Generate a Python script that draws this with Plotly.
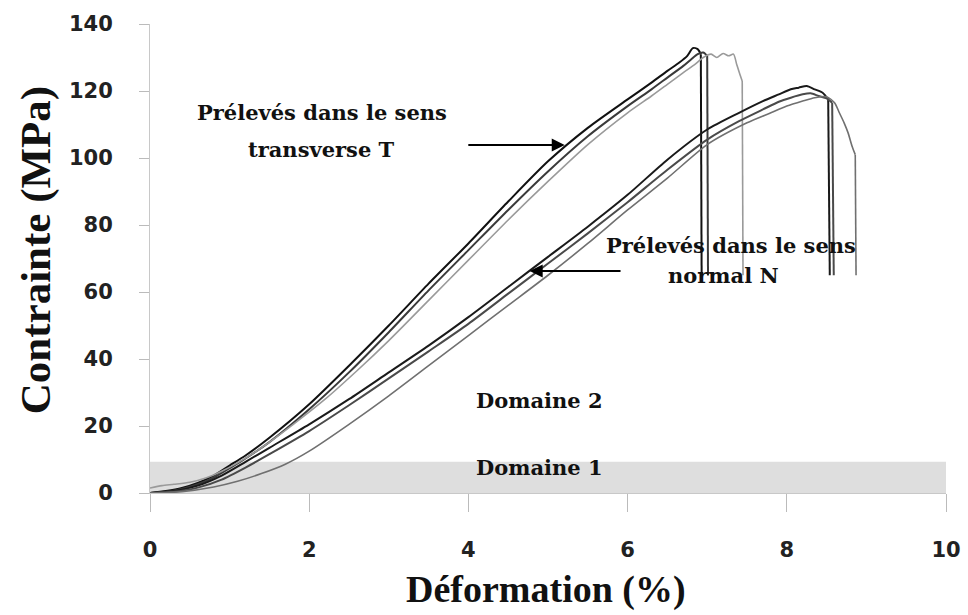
import plotly.graph_objects as go

# Tensile curves, transverse direction (T)
t1_strain = [0, 0.2, 0.4, 0.6, 0.8, 1.0, 1.2, 1.5, 2.0, 2.5, 3.0, 3.5, 4.0, 4.5, 5.0, 5.5, 6.0, 6.3, 6.5, 6.65, 6.75, 6.82, 6.88, 6.92, 6.93]
t1_stress = [0, 0.6, 1.5, 3.0, 5.2, 8.2, 11.2, 16.5, 26.5, 38, 50, 62.5, 74.5, 87, 99, 109, 117.5, 122.5, 126, 128.5, 130.5, 132.8, 132.5, 131, 65]

t2_strain = [0, 0.2, 0.4, 0.6, 0.8, 1.0, 1.2, 1.5, 2.0, 2.5, 3.0, 3.5, 4.0, 4.5, 5.0, 5.5, 6.0, 6.3, 6.5, 6.7, 6.8, 6.88, 6.95, 7.0, 7.01]
t2_stress = [0, 0.4, 1.2, 2.6, 4.6, 7.4, 10.3, 15.2, 25, 36, 48, 60.5, 72.5, 84.5, 96, 106.5, 115.5, 120.5, 124, 127.5, 129.5, 131, 131.5, 130.5, 65]

t3_strain = [0, 0.15, 0.3, 0.5, 0.7, 0.9, 1.1, 1.4, 1.8, 2.2, 2.6, 3.0, 3.5, 4.0, 4.5, 5.0, 5.5, 6.0, 6.3, 6.5, 6.7, 6.85, 6.95, 7.05, 7.12, 7.2, 7.27, 7.33, 7.37, 7.41, 7.44, 7.45]
t3_stress = [1.5, 2.2, 2.6, 3.2, 4.5, 6.5, 9, 13.5, 20.5, 28, 36.5, 45.5, 57.5, 69.5, 81.5, 93, 104, 113.5, 118.5, 122, 125.5, 128, 130, 131, 130, 131.2, 130.5, 131, 128, 125, 123, 65]

# Tensile curves, normal direction (N)
n1_strain = [0, 0.3, 0.6, 0.9, 1.2, 1.5, 2.0, 2.5, 3.0, 3.5, 4.0, 4.5, 5.0, 5.5, 6.0, 6.5, 7.0, 7.4, 7.7, 7.9, 8.05, 8.15, 8.25, 8.35, 8.45, 8.52, 8.54]
n1_stress = [0, 0.6, 2.2, 5.2, 9.3, 13.5, 20.5, 28, 36, 44, 52.5, 61.5, 70.5, 79.5, 89, 99.5, 108.5, 113.5, 117, 119, 120.5, 121, 121.5, 120.5, 119.5, 117.5, 65]

n2_strain = [0, 0.3, 0.6, 0.9, 1.2, 1.5, 2.0, 2.5, 3.0, 3.5, 4.0, 4.5, 5.0, 5.5, 6.0, 6.5, 7.0, 7.4, 7.7, 7.9, 8.05, 8.2, 8.3, 8.4, 8.5, 8.57, 8.59]
n2_stress = [0, 0.4, 1.6, 4.0, 7.6, 11.6, 18.5, 26.2, 34.2, 42.3, 50.5, 59.5, 68.5, 77.5, 86.8, 96.5, 105.5, 111, 114.5, 116.8, 118, 119, 119.3, 118.5, 117.8, 116.5, 65]

n3_strain = [0, 0.4, 0.8, 1.1, 1.4, 1.7, 2.0, 2.5, 3.0, 3.5, 4.0, 4.5, 5.0, 5.5, 6.0, 6.5, 7.0, 7.5, 7.8, 8.0, 8.2, 8.35, 8.5, 8.6, 8.66, 8.72, 8.77, 8.82, 8.86, 8.87]
n3_stress = [0, 0.4, 1.8, 3.5, 5.8, 8.6, 12.5, 20.5, 29, 38, 47, 56, 65, 74.5, 84.5, 94, 104, 110.5, 113.5, 115.5, 117, 118, 118.3, 116.5, 113.5, 110.5, 107.5, 103.5, 101, 65]

# Stress limit of "Domaine 1"
domain1_limit = 9.3

x_ticks = [0, 2, 4, 6, 8, 10]
y_ticks = [0, 20, 40, 60, 80, 100, 120, 140]

curves = [
    (t1_strain, t1_stress, "#111111", 2.0),
    (t2_strain, t2_stress, "#3a3a3a", 2.0),
    (t3_strain, t3_stress, "#9a9a9a", 1.6),
    (n1_strain, n1_stress, "#1a1a1a", 2.0),
    (n2_strain, n2_stress, "#4a4a4a", 2.0),
    (n3_strain, n3_stress, "#707070", 1.6),
]

fig = go.Figure()
for xs, ys, col, w in curves:
    # loading part, smoothed
    fig.add_trace(go.Scatter(x=xs[:-1], y=ys[:-1], mode="lines",
                             line=dict(color=col, width=w, shape="spline", smoothing=0.7),
                             showlegend=False, hoverinfo="skip"))
    # sudden failure drop
    fig.add_trace(go.Scatter(x=xs[-2:], y=ys[-2:], mode="lines",
                             line=dict(color=col, width=w),
                             showlegend=False, hoverinfo="skip"))

fig.add_shape(type="rect", xref="x", yref="y", x0=0, x1=10, y0=0, y1=domain1_limit,
              fillcolor="#dedede", line=dict(width=0), layer="below")

serif = "Liberation Serif, Times New Roman, serif"
txt_font = dict(family="DejaVu Serif, serif", size=21, color="#111111")

annos = [
    dict(x=2.16, y=113.7, text="<b>Prélevés dans le sens</b>"),
    dict(x=2.16, y=102.4, text="<b>transverse T</b>"),
    dict(x=7.3, y=73.9, text="<b>Prélevés dans le sens</b>"),
    dict(x=7.21, y=64.9, text="<b>normal N</b>"),
    dict(x=4.89, y=27.5, text="<b>Domaine 2</b>"),
    dict(x=4.89, y=7.6, text="<b>Domaine 1</b>"),
]
for a in annos:
    fig.add_annotation(xref="x", yref="y", showarrow=False, font=txt_font, **a)

# Arrows pointing at the two families of curves
fig.add_annotation(x=5.21, y=103.9, ax=3.98, ay=103.9, xref="x", yref="y",
                   axref="x", ayref="y", text="", showarrow=True,
                   arrowhead=2, arrowsize=1.3, arrowwidth=2, arrowcolor="#000")
fig.add_annotation(x=4.77, y=66.3, ax=5.93, ay=66.3, xref="x", yref="y",
                   axref="x", ayref="y", text="", showarrow=True,
                   arrowhead=2, arrowsize=1.3, arrowwidth=2, arrowcolor="#000")

# Axis titles
fig.add_annotation(xref="paper", yref="paper", x=0.497, y=-0.205, yanchor="middle",
                   text="<b>Déformation (%)</b>", showarrow=False,
                   font=dict(family=serif, size=38, color="#111"))
fig.add_annotation(xref="paper", yref="paper", x=-0.143, y=0.518, xanchor="center",
                   yanchor="middle", textangle=-90,
                   text="<b>Contrainte (MPa)</b>", showarrow=False,
                   font=dict(family=serif, size=43, color="#111"))

tick_font = dict(family="DejaVu Sans, sans-serif", size=21, color="#222222", weight="bold")

fig.update_xaxes(range=[0, 10], tickvals=x_ticks, ticks="outside", ticklen=18,
                 tickcolor="#bbbbbb", tickwidth=1, showline=True, linecolor="#c8c8c8",
                 showgrid=False, zeroline=False, tickfont=tick_font,
                 ticklabelstandoff=20, automargin=False)
fig.update_yaxes(range=[0, 140], tickvals=y_ticks, ticks="outside", ticklen=10,
                 tickcolor="#bbbbbb", tickwidth=1, showline=True, linecolor="#c8c8c8",
                 showgrid=False, zeroline=False, tickfont=tick_font,
                 ticklabelstandoff=22, automargin=False)

fig.update_layout(width=968, height=615, margin=dict(l=150, r=22, t=24, b=122),
                  plot_bgcolor="white", paper_bgcolor="white")

fig.write_html("out.html")
